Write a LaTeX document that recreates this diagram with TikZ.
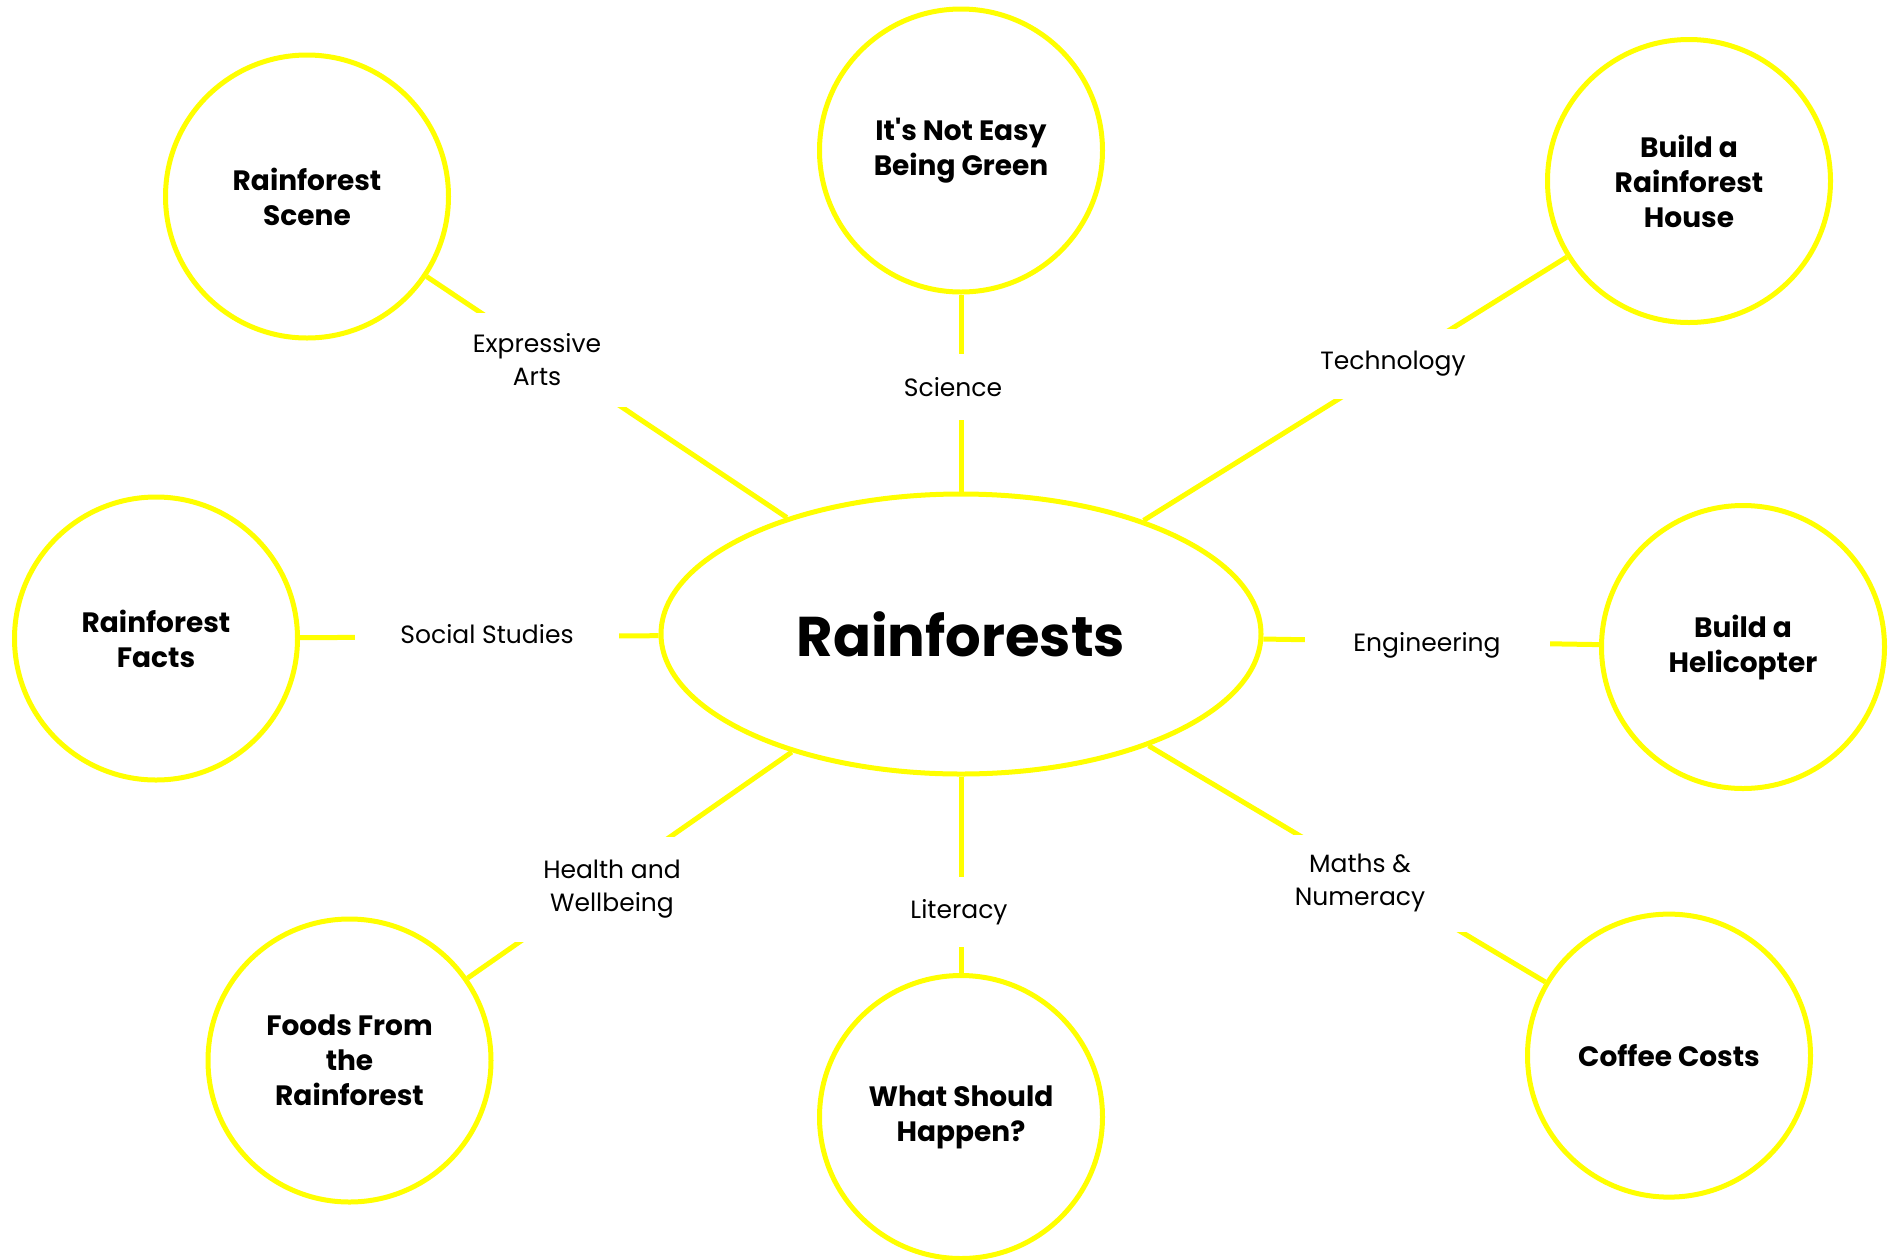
\documentclass[tikz,border=0pt]{standalone}
\usepackage{fontspec}
\setmainfont{Poppins}
\newfontfamily\popfont{Poppins}
\usetikzlibrary{shapes.geometric}
\definecolor{ylw}{RGB}{255,255,0}
\begin{document}
\begin{tikzpicture}[x=1pt,y=-1pt,
  topic/.style={circle,draw=ylw,line width=5pt,minimum size=283pt,inner sep=0pt,align=center,font=\popfont\fontsize{28}{35}\selectfont\bfseries},
  hub/.style={ellipse,draw=ylw,line width=5pt,minimum width=600pt,minimum height=280pt,inner sep=0pt,font=\popfont\fontsize{56}{60}\selectfont\bfseries},
  link/.style={draw=ylw,line width=5pt},
  subj/.style={fill=white,inner xsep=45pt,inner ysep=0pt,align=center,font=\popfont\fontsize{25}{33}\selectfont}]
\useasboundingbox (0,0) rectangle (1896,1259);

\node[hub] (hub) at (961,634) {Rainforests};

\node[topic] (scene)  at (307,196.5)   {Rainforest\\Scene};
\node[topic] (green)  at (961,150.5)   {It's Not Easy\\Being Green};
\node[topic] (house)  at (1689,181)    {Build a\\Rainforest\\House};
\node[topic] (facts)  at (156,638.5)   {Rainforest\\Facts};
\node[topic] (heli)   at (1743,647)    {Build a\\Helicopter};
\node[topic] (foods)  at (349.5,1060.5){Foods From\\the\\Rainforest};
\node[topic] (happen) at (961,1117)    {What Should\\Happen?};
\node[topic] (coffee) at (1669,1055.6) {Coffee Costs};

\draw[link] (hub) -- (scene);
\draw[link] (hub) -- (green);
\draw[link] (hub) -- (house);
\draw[link] (hub) -- (facts);
\draw[link] (hub) -- (heli);
\draw[link] (hub) -- (foods);
\draw[link] (hub) -- (happen);
\draw[link] (hub) -- (coffee);

\node[subj,minimum height=66pt] (lsci) at (953,387) {Science};
\node[subj,minimum height=94pt] (lart) at (537,360) {Expressive\\Arts};
\node[subj,minimum height=70pt] (ltec) at (1393,364) {Technology};
\node[subj,minimum height=70pt,minimum width=241pt] (lsoc) at (487,634) {Social Studies};
\node[subj,minimum height=70pt,minimum width=245pt] (leng) at (1427,645) {Engineering};
\node[subj,minimum height=105pt] (lhea) at (612,889) {Health and\\Wellbeing};
\node[subj,minimum height=70pt] (llit) at (959,912) {Literacy};
\node[subj,minimum height=97pt] (lmat) at (1360,883) {Maths \&\\Numeracy};
\end{tikzpicture}
\end{document}
